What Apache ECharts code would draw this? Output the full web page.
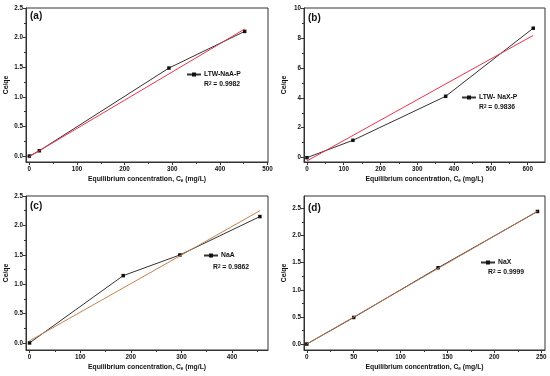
<!DOCTYPE html>
<html><head><meta charset="utf-8">
<script src="https://cdn.jsdelivr.net/npm/echarts@6/dist/echarts.min.js"></script>
<style>html,body{margin:0;padding:0;background:#fff}#c{width:550px;height:376px}</style>
</head><body><div id="c"></div>
<script>
// ---- data ----
const namesAll = ['LTW-NaA-P', 'LTW- NaX-P', 'NaA', 'NaX'];
const r2All = ['0.9982', '0.9836', '0.9862', '0.9999'];
const panelLabels = ['(a)', '(b)', '(c)', '(d)'];

const xA = [0, 21, 293, 452];
const yA = [0, 0.09, 1.486, 2.105];
const fitXA = [0, 452];
const fitYA = [-0.01, 2.145];

const xB = [0, 125, 377, 615];
const yB = [0, 1.16, 4.1, 8.65];
const fitXB = [0, 615];
const fitYB = [-0.22, 8.17];

const xC = [0, 185, 297, 455];
const yC = [0, 1.145, 1.497, 2.15];
const fitXC = [0, 455];
const fitYC = [0.035, 2.25];

const xD = [0, 50, 140, 246];
const yD = [0, 0.49, 1.407, 2.445];
const fitXD = [0, 246];
const fitYD = [0, 2.45];

const xTicksA = [0, 100, 200, 300, 400, 500];
const yTicksA = [0, 0.5, 1.0, 1.5, 2.0, 2.5];
const xTicksB = [0, 100, 200, 300, 400, 500, 600];
const yTicksB = [0, 2, 4, 6, 8, 10];
const xTicksC = [0, 100, 200, 300, 400];
const yTicksC = [0, 0.5, 1.0, 1.5, 2.0, 2.5];
const xTicksD = [0, 50, 100, 150, 200, 250];
const yTicksD = [0, 0.5, 1.0, 1.5, 2.0, 2.5];

// ---- layout / style ----
const FONT = '"Liberation Sans", Arial, sans-serif';
const AX = '#333';
const panels = [
  {xs:xA, ys:yA, fx:fitXA, fy:fitYA, xt:xTicksA, yt:yTicksA, grid:{left:26, top:8, width:242, height:154},
   xr:[-7, 501], yr:[-0.1, 2.5], ydec:1, fitColor:'#e8344e', leg:[186, 71], r2:[204, 85], lab:[30, 17]},
  {xs:xB, ys:yB, fx:fitXB, fy:fitYB, xt:xTicksB, yt:yTicksB, grid:{left:304, top:8, width:241, height:154},
   xr:[-8, 647], yr:[-0.29, 10], ydec:0, fitColor:'#e8344e', leg:[461, 94], r2:[479, 108], lab:[308, 19]},
  {xs:xC, ys:yC, fx:fitXC, fy:fitYC, xt:xTicksC, yt:yTicksC, grid:{left:26, top:196, width:242, height:154},
   xr:[-7, 471], yr:[-0.12, 2.5], ydec:1, fitColor:'#c4834e', leg:[203, 252], r2:[213, 268], lab:[30, 207]},
  {xs:xD, ys:yD, fx:fitXD, fy:fitYD, xt:xTicksD, yt:yTicksD, grid:{left:304, top:196, width:241, height:154},
   xr:[-3, 254], yr:[-0.11, 2.73], ydec:1, fitColor:'#b8744a', leg:[480, 259], r2:[488, 273], lab:[308, 209]}
];

function minors(t){ const m=[]; for(let i=0;i<t.length-1;i++) m.push((t[i]+t[i+1])/2); m.push(t[t.length-1]+(t[1]-t[0])/2); return m; }

const grid=[], xAxis=[], yAxis=[], series=[], legend=[], graphic=[];
panels.forEach((p, i) => {
  grid.push(Object.assign({show:true, borderColor:AX, borderWidth:1, containLabel:false}, p.grid));
  const lbl = {fontSize:6.3, fontWeight:'bold', color:'#111', fontFamily:FONT};
  xAxis.push({type:'value', gridIndex:i, position:'bottom', min:p.xr[0], max:p.xr[1],
    name:'Equilibrium concentration, C{s|e} (mg/L)', nameLocation:'middle', nameGap:13,
    nameTextStyle:{fontSize:6.8, fontWeight:'bold', color:'#111', fontFamily:FONT,
      rich:{s:{fontSize:4.6, fontWeight:'bold', verticalAlign:'bottom', padding:[3,0,0,0], fontFamily:FONT, color:'#111'}}},
    axisLine:{show:true, onZero:false, lineStyle:{color:AX, width:1}},
    axisTick:{show:true, inside:false, length:3, customValues:p.xt, lineStyle:{color:AX}},
    axisLabel:Object.assign({customValues:p.xt, margin:4, showMinLabel:true, showMaxLabel:true}, lbl),
    splitLine:{show:false}});
  xAxis.push({type:'value', gridIndex:i, position:'bottom', min:p.xr[0], max:p.xr[1],
    axisLine:{show:false, onZero:false}, axisLabel:{show:false}, splitLine:{show:false},
    axisTick:{show:true, inside:false, length:2, customValues:minors(p.xt).filter(v=>v<p.xr[1]), lineStyle:{color:AX}}});
  yAxis.push({type:'value', gridIndex:i, position:'left', min:p.yr[0], max:p.yr[1],
    name:'Ce/qe', nameLocation:'middle', nameGap:16,
    nameTextStyle:{fontSize:6.8, fontWeight:'bold', color:'#111', fontFamily:FONT},
    axisLine:{show:true, onZero:false, lineStyle:{color:AX, width:1}},
    axisTick:{show:true, inside:false, length:3, customValues:p.yt, lineStyle:{color:AX}},
    axisLabel:Object.assign({customValues:p.yt, margin:3, formatter:v=>v.toFixed(p.ydec)}, lbl),
    splitLine:{show:false}});
  yAxis.push({type:'value', gridIndex:i, position:'left', min:p.yr[0], max:p.yr[1],
    axisLine:{show:false, onZero:false}, axisLabel:{show:false}, splitLine:{show:false},
    axisTick:{show:true, inside:false, length:2, customValues:minors(p.yt).filter(v=>v<p.yr[1]), lineStyle:{color:AX}}});
  series.push({type:'line', name:namesAll[i], xAxisIndex:2*i, yAxisIndex:2*i,
    data:p.xs.map((x,k)=>[x, p.ys[k]]), symbol:'rect', symbolSize:3.5,
    itemStyle:{color:'#111'}, lineStyle:{color:'#333', width:1}, z:2, animation:false});
  series.push({type:'line', name:'fit'+i, xAxisIndex:2*i, yAxisIndex:2*i,
    data:p.fx.map((x,k)=>[x, p.fy[k]]), symbol:'none',
    lineStyle:{color:p.fitColor, width:1}, z:3, animation:false});
  legend.push({data:[namesAll[i]], left:p.leg[0], top:p.leg[1], padding:0, itemWidth:14, itemHeight:5, itemGap:0,
    textStyle:{fontSize:6.8, fontWeight:'bold', color:'#111', fontFamily:FONT, padding:[0,0,0,-2]}, selectedMode:false});
  graphic.push({type:'text', left:p.r2[0], top:p.r2[1]-4, style:{text:'R{p|2} = '+r2All[i],
    rich:{p:{fontSize:4.6, fontWeight:'bold', verticalAlign:'top', fontFamily:FONT, fill:'#111'}},
    font:'bold 6.8px '+FONT, fill:'#111'}});
  graphic.push({type:'text', left:p.lab[0], top:p.lab[1]-6, style:{text:panelLabels[i], font:'bold 10px '+FONT, fill:'#111'}});
});

const chart = echarts.init(document.getElementById('c'), null, {renderer:'canvas'});
chart.setOption({animation:false, backgroundColor:'#fff', grid, xAxis, yAxis, series, legend, graphic});
</script></body></html>
